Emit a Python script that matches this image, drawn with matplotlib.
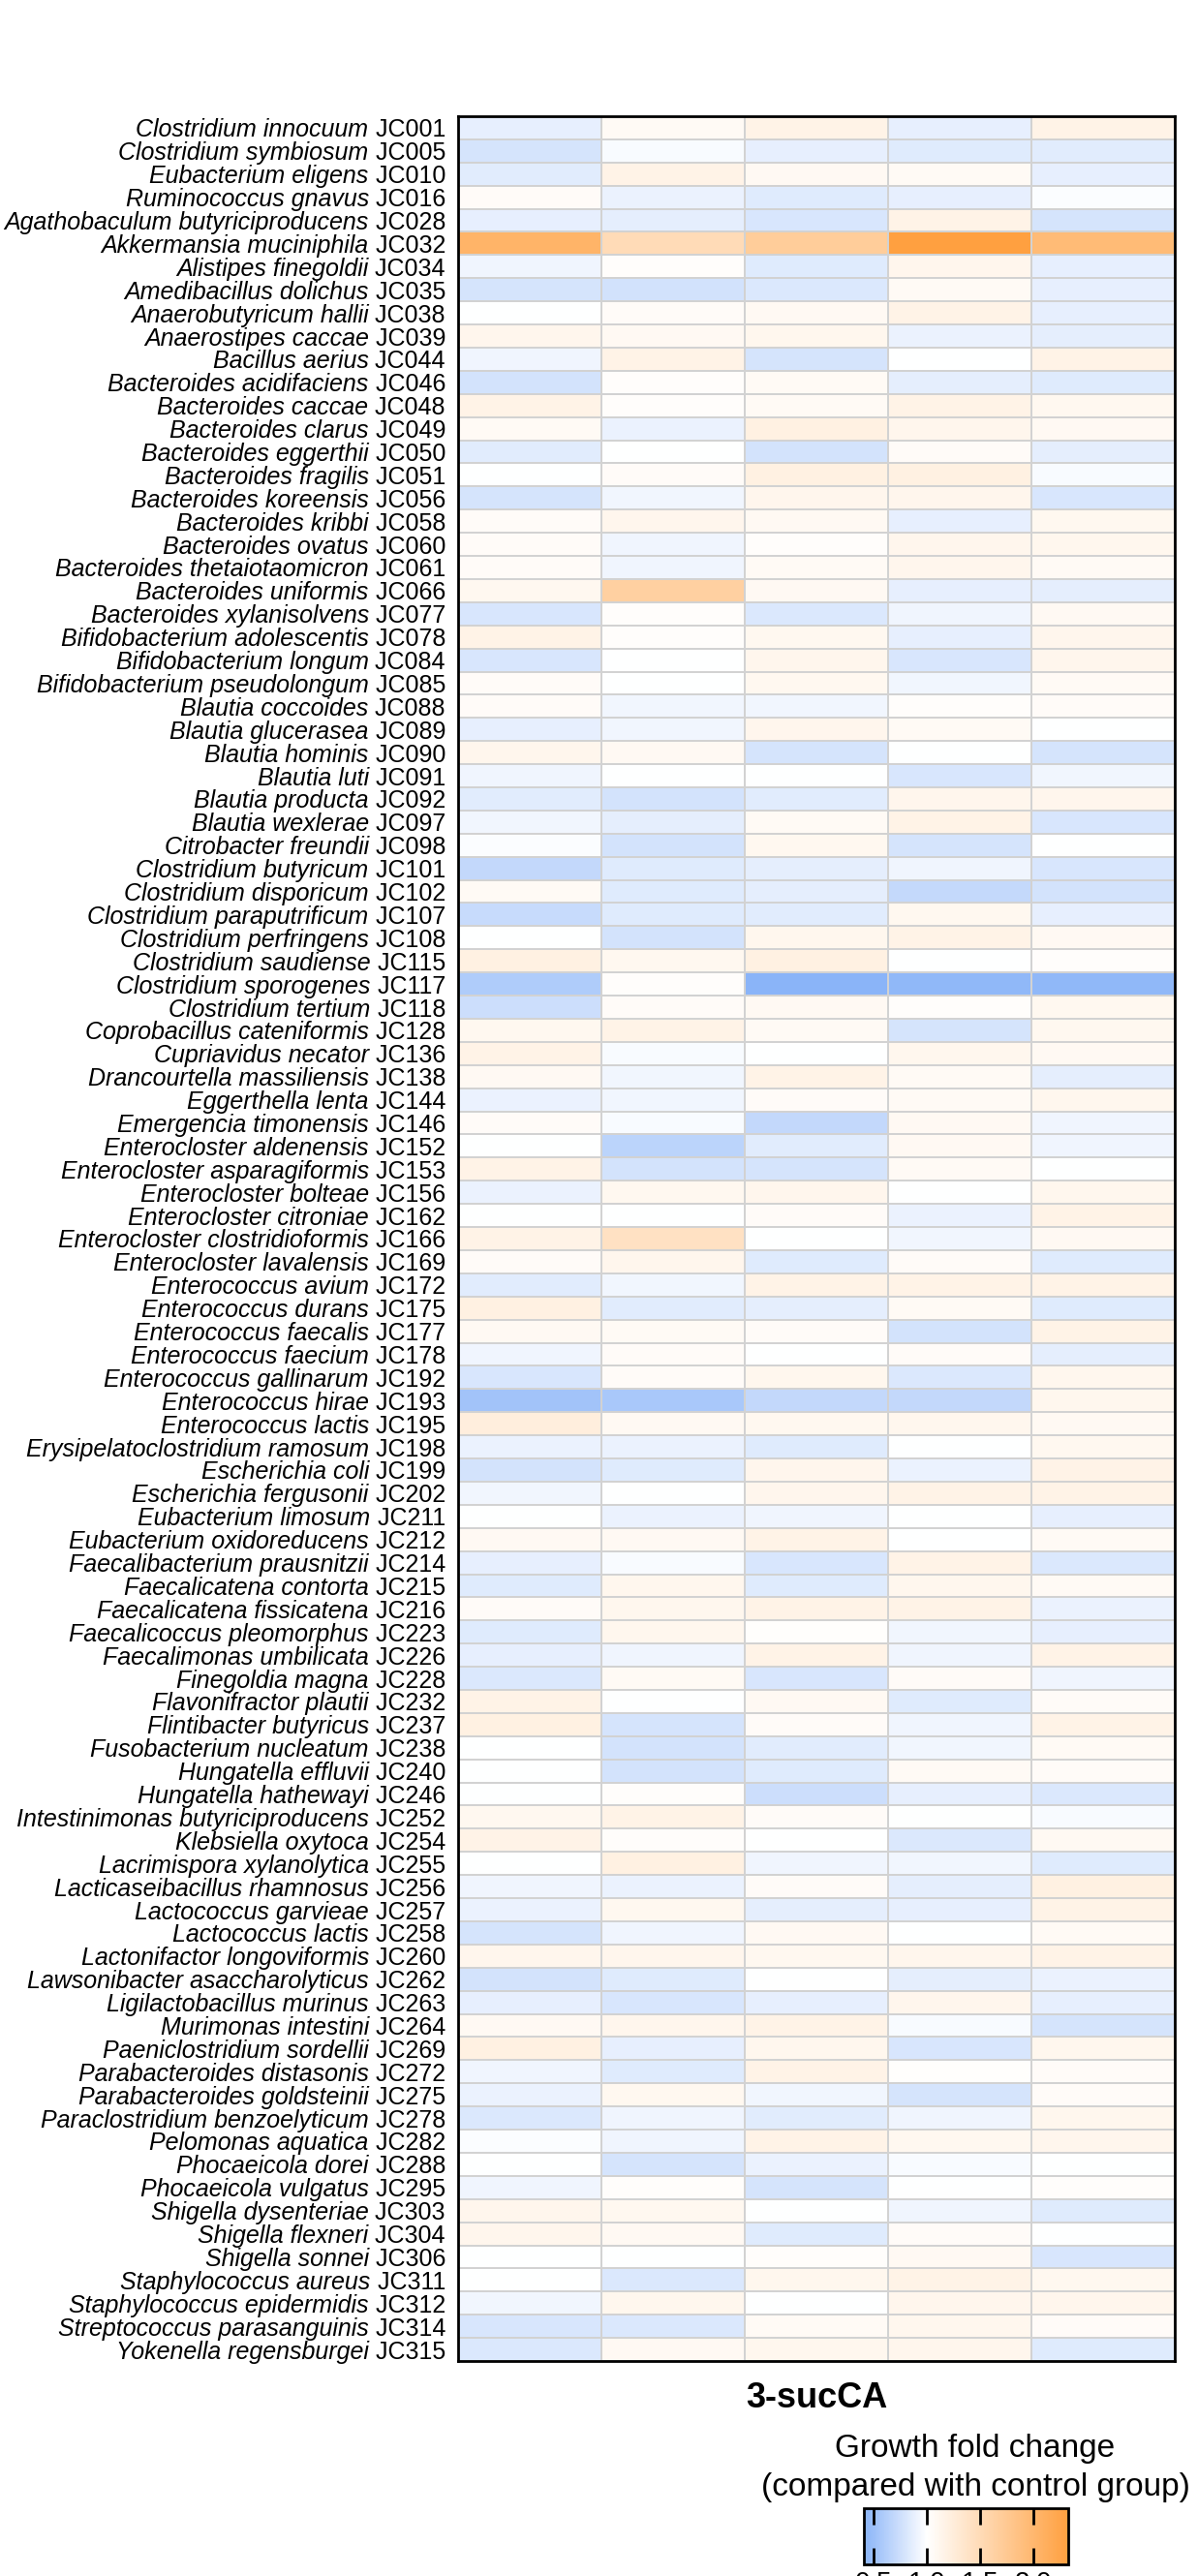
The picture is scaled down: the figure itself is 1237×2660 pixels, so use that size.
import matplotlib
matplotlib.use('Agg')
import matplotlib.pyplot as plt
import matplotlib.transforms as mtransforms
import numpy as np
from matplotlib.colors import LinearSegmentedColormap, Normalize

plt.rcParams['font.family'] = ['Liberation Sans', 'DejaVu Sans']

species = [
    'Clostridium innocuum', 'Clostridium symbiosum', 'Eubacterium eligens', 'Ruminococcus gnavus',
    'Agathobaculum butyriciproducens', 'Akkermansia muciniphila', 'Alistipes finegoldii',
    'Amedibacillus dolichus', 'Anaerobutyricum hallii', 'Anaerostipes caccae', 'Bacillus aerius',
    'Bacteroides acidifaciens', 'Bacteroides caccae', 'Bacteroides clarus', 'Bacteroides eggerthii',
    'Bacteroides fragilis', 'Bacteroides koreensis', 'Bacteroides kribbi', 'Bacteroides ovatus',
    'Bacteroides thetaiotaomicron', 'Bacteroides uniformis', 'Bacteroides xylanisolvens',
    'Bifidobacterium adolescentis', 'Bifidobacterium longum', 'Bifidobacterium pseudolongum',
    'Blautia coccoides', 'Blautia glucerasea', 'Blautia hominis', 'Blautia luti', 'Blautia producta',
    'Blautia wexlerae', 'Citrobacter freundii', 'Clostridium butyricum', 'Clostridium disporicum',
    'Clostridium paraputrificum', 'Clostridium perfringens', 'Clostridium saudiense',
    'Clostridium sporogenes', 'Clostridium tertium', 'Coprobacillus cateniformis',
    'Cupriavidus necator', 'Drancourtella massiliensis', 'Eggerthella lenta', 'Emergencia timonensis',
    'Enterocloster aldenensis', 'Enterocloster asparagiformis', 'Enterocloster bolteae',
    'Enterocloster citroniae', 'Enterocloster clostridioformis', 'Enterocloster lavalensis',
    'Enterococcus avium', 'Enterococcus durans', 'Enterococcus faecalis', 'Enterococcus faecium',
    'Enterococcus gallinarum', 'Enterococcus hirae', 'Enterococcus lactis',
    'Erysipelatoclostridium ramosum', 'Escherichia coli', 'Escherichia fergusonii',
    'Eubacterium limosum', 'Eubacterium oxidoreducens', 'Faecalibacterium prausnitzii',
    'Faecalicatena contorta', 'Faecalicatena fissicatena', 'Faecalicoccus pleomorphus',
    'Faecalimonas umbilicata', 'Finegoldia magna', 'Flavonifractor plautii', 'Flintibacter butyricus',
    'Fusobacterium nucleatum', 'Hungatella effluvii', 'Hungatella hathewayi',
    'Intestinimonas butyriciproducens', 'Klebsiella oxytoca', 'Lacrimispora xylanolytica',
    'Lacticaseibacillus rhamnosus', 'Lactococcus garvieae', 'Lactococcus lactis',
    'Lactonifactor longoviformis', 'Lawsonibacter asaccharolyticus', 'Ligilactobacillus murinus',
    'Murimonas intestini', 'Paeniclostridium sordellii', 'Parabacteroides distasonis',
    'Parabacteroides goldsteinii', 'Paraclostridium benzoelyticum', 'Pelomonas aquatica',
    'Phocaeicola dorei', 'Phocaeicola vulgatus', 'Shigella dysenteriae', 'Shigella flexneri',
    'Shigella sonnei', 'Staphylococcus aureus', 'Staphylococcus epidermidis',
    'Streptococcus parasanguinis', 'Yokenella regensburgei',
]

strains = [
    'JC001', 'JC005', 'JC010', 'JC016', 'JC028', 'JC032', 'JC034', 'JC035', 'JC038', 'JC039',
    'JC044', 'JC046', 'JC048', 'JC049', 'JC050', 'JC051', 'JC056', 'JC058', 'JC060', 'JC061',
    'JC066', 'JC077', 'JC078', 'JC084', 'JC085', 'JC088', 'JC089', 'JC090', 'JC091', 'JC092',
    'JC097', 'JC098', 'JC101', 'JC102', 'JC107', 'JC108', 'JC115', 'JC117', 'JC118', 'JC128',
    'JC136', 'JC138', 'JC144', 'JC146', 'JC152', 'JC153', 'JC156', 'JC162', 'JC166', 'JC169',
    'JC172', 'JC175', 'JC177', 'JC178', 'JC192', 'JC193', 'JC195', 'JC198', 'JC199', 'JC202',
    'JC211', 'JC212', 'JC214', 'JC215', 'JC216', 'JC223', 'JC226', 'JC228', 'JC232', 'JC237',
    'JC238', 'JC240', 'JC246', 'JC252', 'JC254', 'JC255', 'JC256', 'JC257', 'JC258', 'JC260',
    'JC262', 'JC263', 'JC264', 'JC269', 'JC272', 'JC275', 'JC278', 'JC282', 'JC288', 'JC295',
    'JC303', 'JC304', 'JC306', 'JC311', 'JC312', 'JC314', 'JC315',
]

# growth fold change, one list per column (5 columns under 3-sucCA)
rep1 = [0.88, 0.79, 0.85, 1.05, 0.88, 2.05, 0.92, 0.79, 1.00, 1.13,
        0.92, 0.78, 1.17, 1.07, 0.85, 1.00, 0.79, 1.05, 1.05, 1.05,
        1.10, 0.80, 1.17, 0.80, 1.05, 1.05, 0.88, 1.13, 0.92, 0.85,
        0.93, 0.98, 0.70, 1.07, 0.72, 1.00, 1.20, 0.60, 0.74, 1.10,
        1.17, 1.08, 0.90, 1.05, 1.00, 1.17, 0.90, 1.00, 1.17, 1.05,
        0.85, 1.20, 1.08, 0.92, 0.80, 0.53, 1.24, 0.90, 0.78, 0.93,
        1.00, 1.08, 0.88, 0.84, 1.05, 0.84, 0.88, 0.82, 1.17, 1.20,
        1.00, 1.00, 1.00, 1.10, 1.17, 1.00, 0.92, 0.90, 0.79, 1.13,
        0.78, 0.88, 1.08, 1.20, 0.92, 0.90, 0.82, 0.98, 1.00, 0.92,
        1.13, 1.13, 1.00, 1.00, 0.93, 0.80, 0.82]
rep2 = [1.07, 0.97, 1.17, 0.90, 0.87, 1.50, 1.03, 0.77, 1.05, 1.08,
        1.17, 1.03, 1.03, 0.90, 1.00, 1.05, 0.93, 1.13, 0.92, 0.92,
        1.65, 1.03, 1.03, 1.00, 1.00, 0.93, 0.93, 1.08, 1.00, 0.78,
        0.87, 0.78, 0.84, 0.84, 0.84, 0.78, 1.10, 1.03, 1.05, 1.17,
        0.97, 0.93, 0.93, 0.97, 0.66, 0.78, 1.10, 1.00, 1.42, 1.13,
        0.93, 0.85, 1.07, 1.05, 1.05, 0.57, 1.08, 0.90, 0.84, 1.00,
        0.90, 1.08, 0.97, 1.12, 1.12, 1.12, 0.92, 1.07, 1.00, 0.79,
        0.78, 0.78, 1.03, 1.17, 1.03, 1.20, 0.90, 1.10, 0.92, 1.13,
        0.84, 0.80, 1.13, 0.88, 0.84, 1.10, 0.92, 0.92, 0.79, 1.03,
        1.10, 1.08, 1.00, 0.82, 1.12, 0.82, 1.08]
rep3 = [1.17, 0.88, 1.08, 0.84, 0.80, 1.70, 0.84, 0.82, 1.08, 1.12,
        0.79, 1.07, 1.07, 1.20, 0.78, 1.20, 1.13, 1.08, 1.03, 1.07,
        1.08, 0.82, 1.10, 1.13, 1.10, 0.93, 1.13, 0.79, 1.00, 0.85,
        1.07, 1.10, 0.87, 0.87, 0.85, 1.12, 1.20, 0.41, 1.08, 1.07,
        1.00, 1.17, 1.05, 0.70, 0.85, 0.79, 1.13, 1.05, 1.00, 0.84,
        1.17, 0.87, 1.05, 1.00, 1.12, 0.70, 1.10, 0.84, 1.13, 1.13,
        0.92, 1.17, 0.80, 0.84, 1.17, 1.02, 1.17, 0.80, 1.08, 1.05,
        0.85, 0.84, 0.74, 1.05, 1.00, 0.92, 1.05, 0.87, 1.08, 1.10,
        1.00, 0.88, 1.17, 1.12, 1.17, 0.93, 0.85, 1.17, 0.90, 0.79,
        1.00, 0.84, 1.03, 1.12, 1.00, 1.07, 1.12]
rep4 = [0.88, 0.84, 1.07, 0.88, 1.17, 2.33, 1.13, 1.07, 1.17, 0.90,
        1.00, 0.87, 1.17, 1.13, 1.05, 1.20, 1.13, 0.88, 1.13, 1.13,
        0.88, 0.92, 0.88, 0.80, 0.93, 1.03, 1.07, 1.00, 0.80, 1.13,
        1.17, 0.79, 0.92, 0.71, 1.10, 1.17, 1.00, 0.44, 1.03, 0.79,
        1.12, 1.07, 1.07, 1.08, 1.08, 1.07, 1.00, 0.90, 0.93, 1.05,
        1.17, 1.07, 0.78, 1.05, 0.82, 0.70, 1.12, 1.00, 0.90, 1.17,
        1.00, 1.00, 1.17, 1.12, 1.17, 0.93, 0.92, 1.05, 0.84, 0.92,
        0.93, 1.07, 0.88, 1.00, 0.82, 0.93, 0.87, 0.88, 1.00, 1.13,
        0.87, 1.13, 0.97, 0.80, 1.02, 0.79, 0.92, 1.10, 0.97, 1.00,
        0.92, 1.05, 1.08, 1.17, 1.13, 1.12, 1.13]
rep5 = [1.17, 0.85, 0.88, 0.98, 0.79, 1.95, 0.88, 0.88, 0.88, 0.87,
        1.17, 0.84, 1.10, 1.08, 0.87, 0.97, 0.80, 1.10, 1.12, 1.07,
        0.87, 1.08, 1.13, 1.13, 1.07, 1.05, 1.00, 0.79, 0.93, 1.13,
        0.80, 1.00, 0.80, 0.78, 0.88, 1.08, 1.03, 0.44, 1.10, 1.10,
        1.08, 0.87, 1.12, 0.92, 0.92, 1.00, 1.12, 1.17, 1.08, 0.84,
        1.17, 0.84, 1.17, 0.87, 1.12, 1.12, 1.08, 1.10, 1.17, 1.17,
        0.88, 1.07, 0.82, 1.07, 0.90, 0.88, 1.17, 0.92, 1.05, 1.17,
        1.07, 1.05, 0.82, 0.97, 1.08, 0.84, 1.20, 1.17, 1.07, 1.17,
        0.90, 0.88, 0.79, 1.12, 1.05, 1.05, 1.12, 1.13, 1.00, 1.03,
        0.84, 1.00, 0.80, 1.10, 1.13, 1.05, 0.84]

cbar_ticks = [0.5, 1.0, 1.5, 2.0]
cbar_ticklabels = ['0.5', '1.0', '1.5', '2.0']

fc = np.array([rep1, rep2, rep3, rep4, rep5]).T
n_rows, n_cols = fc.shape

vmin, vmax = 0.41, 2.33
mid = (1.0 - vmin) / (vmax - vmin)
cmap = LinearSegmentedColormap.from_list(
    'fold', [(0.0, '#8AB4F8'), (mid, '#FFFFFF'), (1.0, '#FFA040')])

W, H = 1237, 2660
fig = plt.figure(figsize=(W / 100, H / 100), dpi=100)
ax = fig.add_axes([473 / W, 1 - 2438 / H, 740 / W, 2318 / H])
mesh = ax.pcolormesh(np.arange(n_cols + 1), np.arange(n_rows + 1), fc,
                     cmap=cmap, norm=Normalize(vmin, vmax),
                     edgecolors='#d2d2d2', linewidth=1.4)
ax.set_xlim(0, n_cols)
ax.set_ylim(n_rows, 0)
ax.set_xticks([])
ax.set_yticks([])
for sp in ax.spines.values():
    sp.set_linewidth(2)
    sp.set_color('black')

# row labels: italic species name + plain strain id
renderer = fig.canvas.get_renderer()
ytrans = ax.get_yaxis_transform()
base = mtransforms.offset_copy(ytrans, fig=fig, x=-13, units='dots')
for i, (sp, st) in enumerate(zip(species, strains)):
    t = ax.text(0, i + 0.5, ' ' + st, ha='right', va='center_baseline',
                fontsize=18, transform=base, clip_on=False)
    w = t.get_window_extent(renderer).width
    tr = mtransforms.offset_copy(ytrans, fig=fig, x=-13 - w, units='dots')
    ax.text(0, i + 0.5, sp, ha='right', va='center_baseline', fontsize=18,
            style='italic', transform=tr, clip_on=False)

fig.text((473 + 1213) / 2 / W, 1 - 2486 / H, '3-sucCA', ha='center',
         va='baseline', fontsize=26, fontweight='bold')
fig.text(1007 / W, 1 - 2537 / H, 'Growth fold change', ha='center',
         va='baseline', fontsize=24)
fig.text(1007 / W, 1 - 2577 / H, '(compared with control group)', ha='center',
         va='baseline', fontsize=24)

cax = fig.add_axes([892 / W, 1 - 2648 / H, 211 / W, 58 / H])
cbar = fig.colorbar(mesh, cax=cax, orientation='horizontal', ticks=cbar_ticks)
cbar.set_ticklabels(cbar_ticklabels)
cbar.outline.set_linewidth(2)
cax.tick_params(direction='in', length=12, width=2, top=True, bottom=True,
                labelsize=20, pad=5)

fig.savefig('out.png', dpi=100)
